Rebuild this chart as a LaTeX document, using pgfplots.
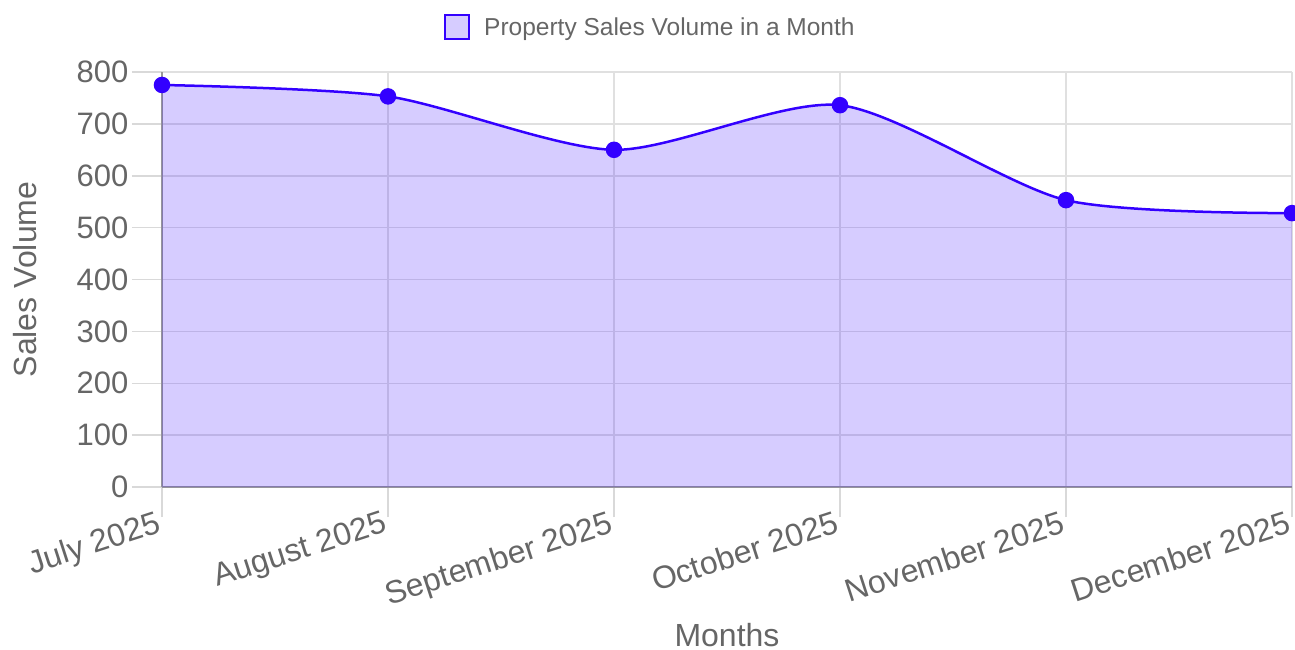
\documentclass[border=0pt]{standalone}
\usepackage{fontspec}
\setmainfont{Liberation Sans}
\usepackage{pgfplots}
\pgfplotsset{compat=1.18}
\definecolor{lineblue}{RGB}{51,0,255}
\definecolor{txtgrey}{HTML}{666666}
\definecolor{gridgrey}{HTML}{E0E0E0}

\begin{document}
\begin{tikzpicture}
\useasboundingbox (-162pt,-163pt) rectangle (1133pt,487pt);
\begin{axis}[
  scale only axis,
  width=1130pt, height=415pt,
  xmin=0, xmax=5, ymin=0, ymax=800,
  xtick={0,...,5},
  xticklabels={July 2025, August 2025, September 2025, October 2025, November 2025, December 2025},
  ytick={0,100,...,800},
  grid=major,
  grid style={gridgrey, line width=1.5pt},
  axis lines*=left,
  axis line style={-, draw=black!40, line width=1.5pt},
  tick align=outside,
  major tick length=30pt,
  xtick style={draw=black!15, line width=1.5pt},
  ytick style={draw=black!15, line width=1.5pt},
  /pgf/number format/assume math mode=true,
  yticklabel style={font=\fontsize{31}{36}\selectfont, text=txtgrey},
  xticklabel style={font=\fontsize{32}{36}\selectfont, text=txtgrey, rotate=18, anchor=north east, inner sep=1pt, xshift=-3pt, yshift=10pt},
  xlabel={Months},
  ylabel={Sales Volume},
  xlabel style={font=\fontsize{32}{38}\selectfont, text=txtgrey, at={(rel axis cs:0.5,0)}, anchor=center, yshift=-148pt},
  ylabel style={font=\fontsize{32}{38}\selectfont, text=txtgrey, at={(axis description cs:-0.1212,0.5)}, anchor=center},
  legend style={at={(0.432,1.108)}, anchor=center, draw=none, fill=none,
    font=\fontsize{24.5}{28}\selectfont, text=txtgrey},
  legend image code/.code={\draw[line width=2.5pt, draw=lineblue, fill=lineblue!20] (0pt,-12pt) rectangle (24pt,12pt); \path (36pt,0pt);},
]
\addplot[draw=none, fill=lineblue, fill opacity=0.2, smooth, tension=0.45, forget plot]
  coordinates {(0,775) (1,753) (2,650) (3,736) (4,553) (5,528)} \closedcycle;
\addplot[lineblue, line width=2.5pt, smooth, tension=0.45, mark=*, mark size=7pt,
  mark options={fill=lineblue, draw=lineblue}]
  coordinates {(0,775) (1,753) (2,650) (3,736) (4,553) (5,528)};
\legend{Property Sales Volume in a Month}
\end{axis}
\end{tikzpicture}
\end{document}
